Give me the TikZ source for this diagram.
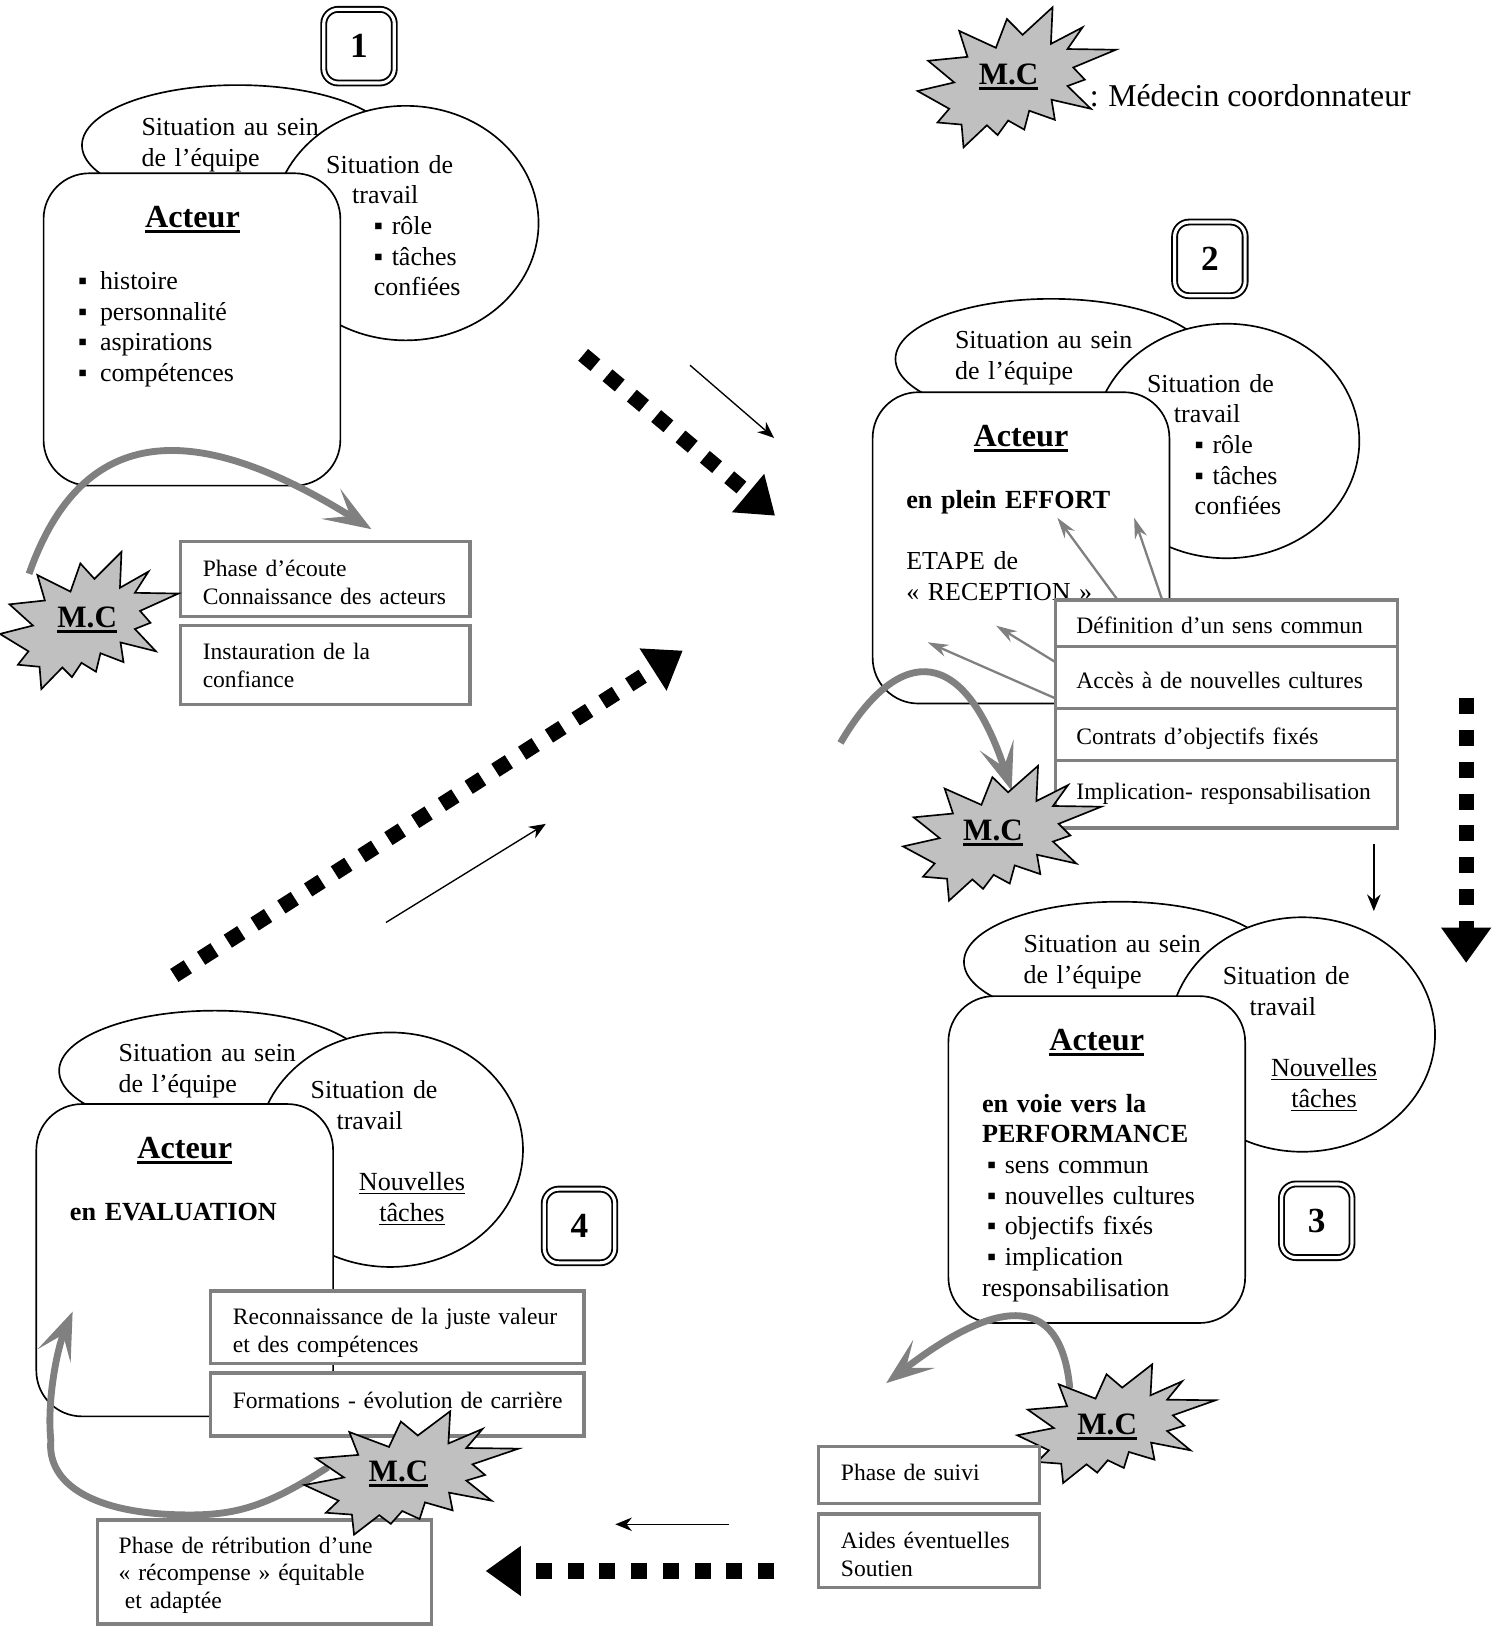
\documentclass[tikz,border=0pt]{standalone}
\usepackage{fontspec}
\setmainfont{Liberation Serif}
\usetikzlibrary{shapes.geometric,arrows.meta}
\newcommand\thul[1]{\vtop{\hbox{#1}\kern 1.1pt\hrule height 1.4pt}}
\newcommand\bul{\makebox[10.5pt][l]{▪}}
\newcommand\mcburst[5]{%
  \draw[burst,shift={(#2,#3)},xscale=#4,yscale=#5]
  (43.4,-57.2)--(41.8,-27.3)--(72.3,-40.8)--(57.8,-23.1)--(104.4,-22.5)--(63.3,-8)--(74.5,1.9)--(57.8,7.1)--(80.3,25.7)--(42.4,18.3)--(45.6,34.7)--(20.9,27.3)--(16.1,42.7)--(0.6,35.3)--(-9.6,47.2)--(-19.9,39.2)--(-42.4,57.2)--(-44.3,38.6)--(-67.5,36.9)--(-56.2,25.7)--(-86.7,11.2)--(-51.4,4.2)--(-76.5,-13.5)--(-38.6,-16.7)--(-46.6,-37.9)--(-11.2,-24.1)--(-0.6,-47.6)--(14.5,-34.7)--cycle;
  \coordinate (#1) at (#2,#3);}
\definecolor{bordergray}{HTML}{808080}
\definecolor{burstgray}{HTML}{C0C0C0}
\tikzset{
  ell/.style={ellipse,draw=black,fill=white,line width=.8pt,inner sep=0pt},
  actor/.style={rectangle,rounded corners=22pt,draw=black,fill=white,line width=.8pt,inner sep=0pt,minimum width=143pt},
  gbox/.style={rectangle,draw=bordergray,fill=white,line width=1.7pt,inner sep=0pt,outer sep=0pt,anchor=north west},
  tx/.style={anchor=base west,inner sep=0pt,yshift=-.4pt,align=left,text width=#1,font=\fontsize{12.5}{14.8}\selectfont},
  sm/.style={anchor=base west,inner sep=0pt,yshift=-.4pt,align=left,text width=#1,font=\fontsize{11.35}{13.3}\selectfont},
  bf/.style={anchor=base west,inner sep=0pt,align=left,text width=#1,font=\fontsize{12.6}{14.6}\selectfont\bfseries},
  head/.style={anchor=base,inner sep=0pt,font=\fontsize{15.5}{18}\selectfont\bfseries},
  und/.style={anchor=base,inner sep=0pt,font=\fontsize{12.6}{14.8}\selectfont},
  mclab/.style={anchor=base,inner sep=0pt,font=\fontsize{15}{18}\selectfont\bfseries},
  numbox/.style={rectangle,rounded corners=7pt,draw=black,fill=white,double,double distance=1.5pt,line width=.9pt,inner sep=0pt,minimum width=34pt,minimum height=35.5pt,font=\fontsize{17}{20}\selectfont\bfseries},
  burst/.style={draw=black,fill=burstgray,line width=.8pt,line join=miter},
  swoop/.style={draw=bordergray,line width=3.3pt,-{Stealth[length=23pt,width=17pt,inset=11pt]}},
  bigdash/.style={draw=black,line width=7.4pt,dash pattern=on 7.7pt off 7.6pt,-{Triangle[length=17pt,width=23pt]}},
  thin/.style={draw=black,line width=.65pt,-{Stealth[length=8pt,width=6.5pt]}},
  gthin/.style={draw=bordergray,line width=1.1pt,-{Stealth[length=10pt,width=6pt]}},
}
\begin{document}
\begin{tikzpicture}[x=.5pt,y=-.5pt]
\useasboundingbox (0,0) rectangle (1440,1568);

% ---------- number boxes
\node[numbox] (n1) at (346,44.5) {1};
\node[numbox] (n2) at (1166,249.5) {2};
\node[numbox] (n3) at (1269,1176.5) {3};
\node[numbox] (n4) at (558.5,1181.5) {4};

% ---------- legend
\mcburst{slegend}{971}{74.5}{1}{1.18}
\node[mclab] (llegend) at (972,81) {\thul{M.C}};
\node[anchor=base west,inner sep=0pt,font=\fontsize{15.3}{18}\selectfont] (legend) at (1050,102.5) {:\hspace{-.5pt} Médecin coordonnateur};

% ---------- group 1
\node[ell,minimum width=150pt,minimum height=58pt] (t1) at (229,140) {};
\node[ell,minimum width=128pt,minimum height=113pt] (w1) at (391,215) {};
\node[actor,minimum height=150.5pt] (a1) at (185,317.5) {};
\node[tx=95pt] (t1t) at (136,130) {Situation au sein\\de l’équipe};
\node[tx=75pt] (w1t) at (314,166) {Situation de\\\hspace*{12.5pt}travail\\\hspace*{23pt}▪ rôle\\\hspace*{23pt}▪ tâches\\\hspace*{23pt}confiées};
\node[head] (a1h) at (185.5,219) {\thul{Acteur}};
\node[tx=90pt] (a1t) at (75,278) {\bul histoire\\\bul personnalité\\\bul aspirations\\\bul compétences};

% ---------- boxes group 1
\node[gbox,minimum width=139.5pt,minimum height=36pt] (b1a) at (174,522) {};
\node[gbox,minimum width=139.5pt,minimum height=38pt] (b1b) at (174,603) {};
\node[sm=125pt] (b1at) at (195,555) {Phase d’écoute\\Connaissance des acteurs};
\node[sm=125pt] (b1bt) at (195,635) {Instauration de la\\confiance};
\coordinate (c1s) at (28,553);
\coordinate (c1e) at (358,510);
\draw[swoop] (c1s) .. controls (80,405) and (190,405) .. (c1e);
\mcburst{s1}{78}{598}{.9}{1.155}
\node[mclab] (l1) at (84,605) {\thul{M.C}};

% ---------- group 2
\node[ell,minimum width=150pt,minimum height=58pt] (t2) at (1013,346) {};
\node[ell,minimum width=128pt,minimum height=113pt] (w2) at (1182,425) {};
\node[actor,minimum height=150pt] (a2) at (984,528) {};
\node[tx=95pt] (t2t) at (920,335) {Situation au sein\\de l’équipe};
\node[tx=75pt] (w2t) at (1105,377) {Situation de\\\hspace*{13pt}travail\\\hspace*{23pt}▪ rôle\\\hspace*{23pt}▪ tâches\\\hspace*{23pt}confiées};
\node[head] (a2h) at (984,430) {\thul{Acteur}};
\node[bf=110pt] (a2b) at (873,490) {en plein EFFORT};
\node[tx=105pt] (a2t) at (873,548) {ETAPE de\\« RECEPTION »};
\coordinate (g1s) at (1077,578);
\coordinate (g1e) at (1019,499);
\coordinate (g2s) at (1120,578);
\coordinate (g2e) at (1093,499);
\coordinate (g3s) at (1017,638);
\coordinate (g3e) at (960,603);
\coordinate (g4s) at (1017,673);
\coordinate (g4e) at (894,619);
\draw[gthin] (g1s) -- (g1e);
\draw[gthin] (g2s) -- (g2e);
\draw[gthin] (g3s) -- (g3e);
\draw[gthin] (g4s) -- (g4e);
\node[gbox,minimum width=165pt,minimum height=22.5pt] (b2a) at (1017,578) {};
\node[gbox,minimum width=165pt,minimum height=30pt] (b2b) at (1017,623) {};
\node[gbox,minimum width=165pt,minimum height=25pt] (b2c) at (1017,683) {};
\node[gbox,minimum width=165pt,minimum height=32.5pt] (b2d) at (1017,733) {};
\node[sm=150pt] (b2at) at (1037,610) {Définition d’un sens commun};
\node[sm=150pt] (b2bt) at (1037,663) {Accès à de nouvelles cultures};
\node[sm=150pt] (b2ct) at (1037,717) {Contrats d’objectifs fixés};
\node[sm=150pt] (b2dt) at (1037,770) {Implication- responsabilisation};
\coordinate (c2s) at (810,716);
\coordinate (c2e) at (975,762);
\draw[swoop] (c2s) .. controls (860,630) and (925,610) .. (c2e);
\mcburst{s2}{957}{803}{1}{1.136}
\node[mclab] (l2) at (957,810) {\thul{M.C}};

% ---------- group 3
\node[ell,minimum width=150pt,minimum height=58pt] (t3) at (1079,927) {};
\node[ell,minimum width=128pt,minimum height=113pt] (w3) at (1255,997) {};
\node[actor,minimum height=157.5pt] (a3) at (1057,1117.5) {};
\node[tx=95pt] (t3t) at (986,917) {Situation au sein\\de l’équipe};
\node[tx=75pt] (w3t) at (1178,948) {Situation de\\\hspace*{13pt}travail};
\node[und] (w3u) at (1276,1037) {\underline{Nouvelles}};
\node[und] (w3v) at (1276,1067) {\underline{tâches}};
\node[head] (a3h) at (1057,1012) {\thul{Acteur}};
\node[bf=110pt] (a3b) at (946,1072) {en voie vers la\\PERFORMANCE};
\node[tx=105pt] (a3t) at (946,1130) {\hspace*{2.5pt}\makebox[8.5pt][l]{▪}sens commun\\\hspace*{2.5pt}\makebox[8.5pt][l]{▪}nouvelles cultures\\\hspace*{2.5pt}\makebox[8.5pt][l]{▪}objectifs fixés\\\hspace*{2.5pt}\makebox[8.5pt][l]{▪}implication\\responsabilisation};
\coordinate (c3s) at (1031,1338);
\coordinate (c3e) at (854,1333);
\draw[swoop] (c3s) .. controls (1022,1240) and (955,1255) .. (c3e);
\mcburst{s3}{1067}{1372}{1}{1}
\node[mclab] (l3) at (1067,1382) {\thul{M.C}};
\node[gbox,minimum width=106.5pt,minimum height=27.5pt] (b3a) at (789,1394) {};
\node[gbox,minimum width=106.5pt,minimum height=35.5pt] (b3b) at (789,1459) {};
\node[sm=90pt] (b3at) at (810,1426) {Phase de suivi};
\node[sm=90pt] (b3bt) at (810,1492) {Aides éventuelles\\Soutien};

% ---------- group 4
\node[ell,minimum width=150pt,minimum height=58pt] (t4) at (207,1032) {};
\node[ell,minimum width=128pt,minimum height=113pt] (w4) at (376,1108) {};
\node[actor,minimum height=150.5pt] (a4) at (178,1214.5) {};
\node[tx=95pt] (t4t) at (114,1022) {Situation au sein\\de l’équipe};
\node[tx=75pt] (w4t) at (299,1058) {Situation de\\\hspace*{12.5pt}travail};
\node[und] (w4u) at (397,1147) {\underline{Nouvelles}};
\node[und] (w4v) at (397,1177) {\underline{tâches}};
\node[head] (a4h) at (178,1116) {\thul{Acteur}};
\node[bf=110pt] (a4b) at (67,1176) {en EVALUATION};
\node[gbox,minimum width=180pt,minimum height=35pt] (b4a) at (203,1244) {};
\node[gbox,minimum width=180pt,minimum height=30.5pt] (b4b) at (203,1323) {};
\node[sm=165pt] (b4at) at (224,1276) {Reconnaissance de la juste valeur\\et des compétences};
\node[sm=165pt] (b4bt) at (224,1357) {Formations - évolution de carrière};
\node[gbox,minimum width=161pt,minimum height=50pt] (b4c) at (94,1465) {};
\node[sm=140pt] (b4ct) at (114,1496) {Phase de rétribution d’une\\« récompense » équitable\\\hspace*{3pt}et adaptée};
\coordinate (c4s) at (316,1414);
\coordinate (c4a) at (183,1460);
\coordinate (c4b) at (49,1388);
\coordinate (c4e) at (70,1264);
\draw[swoop] (c4s) .. controls (260,1450) and (230,1460) .. (c4a) .. controls (90,1460) and (45,1430) .. (c4b) .. controls (45,1350) and (55,1300) .. (c4e);
\mcburst{s4}{387}{1419.5}{1.08}{1.04}
\node[mclab] (l4) at (384,1428) {\thul{M.C}};

% ---------- thin arrows
\coordinate (th1s) at (665,352);
\coordinate (th1e) at (746,422);
\coordinate (th2s) at (372,889);
\coordinate (th2e) at (526,794);
\coordinate (th3s) at (1324,813);
\coordinate (th3e) at (1324,878);
\coordinate (th4s) at (703,1469);
\coordinate (th4e) at (593,1469);
\draw[thin] (th1s) -- (th1e);
\draw[thin] (th2s) -- (th2e);
\draw[thin] (th3s) -- (th3e);
\draw[thin] (th4s) -- (th4e);

% ---------- thick dashed arrows
\coordinate (d1s) at (562,342);
\coordinate (d1e) at (747,497);
\coordinate (d2s) at (1413,673);
\coordinate (d2e) at (1413,928);
\coordinate (d3s) at (746,1514);
\coordinate (d3e) at (468,1514);
\coordinate (d4s) at (168,940);
\coordinate (d4e) at (658,627);
\draw[bigdash] (d1s) -- (d1e);
\draw[bigdash] (d2s) -- (d2e);
\draw[bigdash] (d3s) -- (d3e);
\draw[bigdash] (d4s) -- (d4e);
\end{tikzpicture}
\end{document}
